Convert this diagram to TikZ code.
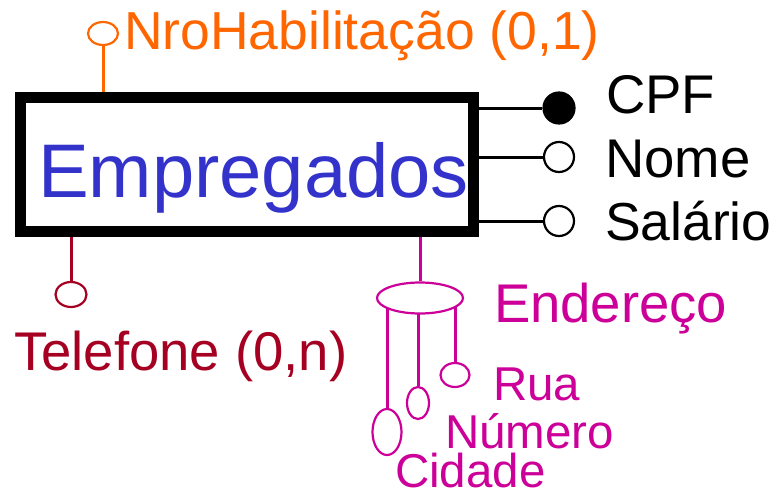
\documentclass[tikz,border=0pt]{standalone}
\usepackage{fontspec}
\setmainfont{Liberation Sans}
\usetikzlibrary{shapes.geometric}
\pgfdeclarelayer{background}
\pgfsetlayers{background,main}
\definecolor{corange}{HTML}{FF6600}
\definecolor{cblue}{HTML}{3333CC}
\definecolor{cred}{HTML}{A50021}
\definecolor{cmag}{HTML}{CC0099}
\tikzset{
  attr/.style={ellipse, draw, line width=2.2pt, fill=white, inner sep=0pt},
  conn/.style={line width=3pt},
  lbl/.style={anchor=base west, inner sep=0pt, outer sep=0pt, text depth=0pt},
  big/.style={font=\fontsize{54.5}{60}\selectfont},
  small/.style={font=\fontsize{47.5}{52}\selectfont},
}
\begin{document}
\begin{tikzpicture}[x=1pt,y=-1pt]
\useasboundingbox (0,0) rectangle (774,498);
% entity
\node[draw, line width=11pt, minimum width=453pt, minimum height=134pt, inner sep=0pt, fill=white] (emp) at (247,164.5) {};
\node[lbl, text=cblue, font=\fontsize{76}{80}\selectfont] (empt) at (38,197) {Empregados};
% NroHabilitacao
\node[attr, draw=corange, minimum width=30pt, minimum height=23pt] (nro) at (103,33.5) {};
\draw[conn, corange] (nro.south) -- (nro.south |- emp.north);
\node[lbl, font=\fontsize{53.5}{60}\selectfont, text=corange] (nrot) at (124,49) {NroHabilitação (0,1)};
% CPF, Nome, Salario
\node[circle, draw, fill=black, line width=2.2pt, minimum size=31pt, inner sep=0pt] (cpf) at (559,108) {};
\node[attr, minimum width=30pt, minimum height=30pt] (nome) at (559,157) {};
\node[attr, minimum width=30pt, minimum height=30pt] (sal) at (559,221) {};
\draw[conn] (cpf.west) -- (cpf.west -| emp.east);
\draw[conn] (nome.west) -- (nome.west -| emp.east);
\draw[conn] (sal.west) -- (sal.west -| emp.east);
\node[lbl, big] (cpft) at (606,113) {CPF};
\node[lbl, big] (nomet) at (605,177) {Nome};
\node[lbl, font=\fontsize{53.5}{60}\selectfont] (salt) at (605,240) {Salário};
% Telefone
\node[attr, draw=cred, minimum width=31pt, minimum height=25pt] (tel) at (71,294.5) {};
\draw[conn, cred] (tel.north) -- (tel.north |- emp.south);
\node[lbl, big, text=cred] (telt) at (14,370) {Telefone (0,n)};
% Endereco
\node[attr, draw=cmag, minimum width=86pt, minimum height=31pt] (endr) at (420,298) {};
\draw[conn, cmag] (endr.north) -- (endr.north |- emp.south);
\node[lbl, big, text=cmag] (endt) at (494,322) {Endereço};
\node[attr, draw=cmag, minimum width=29pt, minimum height=46pt] (cid) at (387,432) {};
\node[attr, draw=cmag, minimum width=22pt, minimum height=32pt] (num) at (418,403) {};
\node[attr, draw=cmag, minimum width=29pt, minimum height=24pt] (rua) at (455,375) {};
\begin{pgfonlayer}{background}
\draw[conn, cmag] (cid.north) -- (cid.north |- endr.center);
\draw[conn, cmag] (num.north) -- (num.north |- endr.center);
\draw[conn, cmag] (rua.north) -- (rua.north |- endr.center);
\end{pgfonlayer}
\node[lbl, small, text=cmag] (ruat) at (493,400) {Rua};
\node[lbl, small, text=cmag] (numt) at (445,448) {Número};
\node[lbl, small, text=cmag] (cidt) at (395,487) {Cidade};
\end{tikzpicture}
\end{document}
